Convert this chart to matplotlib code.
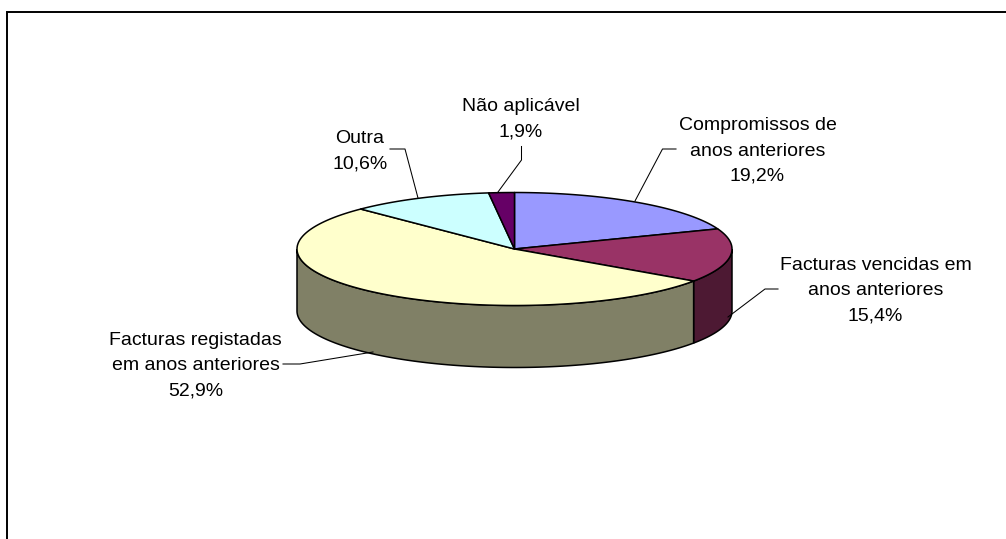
import numpy as np
import matplotlib
matplotlib.use('Agg')
import matplotlib.pyplot as plt

# slices, clockwise from 12 o'clock
names = ['Compromissos de\nanos anteriores',
         'Facturas vencidas em\nanos anteriores',
         'Facturas registadas\nem anos anteriores',
         'Outra',
         'Não aplicável']
values = [19.2, 15.4, 52.9, 10.6, 1.9]
top_colors = ['#9999FF', '#993366', '#FFFFCC', '#CCFFFF', '#660066']
side_colors = ['#4D4D80', '#4D1933', '#808066', '#668080', '#330033']

# label centres and leader lines, in image pixels
label_pos = [(757.5, 151), (875.5, 290.5), (195.5, 365.5), (360, 151.5), (521, 119.5)]
leaders = [
    [(676, 149), (662.5, 149), (635, 201)],
    [(778, 289), (765, 289), (728, 317)],
    [(283, 364), (300, 364), (373, 352)],
    [(390, 149), (405, 149), (418, 198)],
    [(521.5, 146.5), (521.5, 160), (498, 192)],
]

cx, cy = 514.5, 249.0
rx, ry = 217.5, 56.5
depth = 62.0

plt.rcParams['font.family'] = ['Liberation Sans', 'DejaVu Sans']

fig = plt.figure(figsize=(10.06, 5.39), dpi=100)
ax = fig.add_axes([0, 0, 1, 1])
ax.set_xlim(0, 1006)
ax.set_ylim(539, 0)
ax.axis('off')


def rim(a, b, dy=0.0):
    t = np.radians(np.linspace(a, b, 120))
    return cx + rx * np.sin(t), cy - ry * np.cos(t) + dy


edges = np.concatenate([[0], np.cumsum(values)]) / np.sum(values) * 360

# side wall: only the front half of the rim shows
for i in range(len(values)):
    a, b = max(edges[i], 90), min(edges[i + 1], 270)
    if a >= b:
        continue
    x, y = rim(a, b)
    x2, y2 = rim(a, b, depth)
    ax.fill(np.r_[x, x2[::-1]], np.r_[y, y2[::-1]], facecolor=side_colors[i],
            edgecolor='black', linewidth=1.1, zorder=2)

# top face
for i in range(len(values)):
    x, y = rim(edges[i], edges[i + 1])
    ax.fill(np.r_[cx, x], np.r_[cy, y], facecolor=top_colors[i],
            edgecolor='black', linewidth=1.1, joinstyle='round', zorder=3)

for pts in leaders:
    px, py = zip(*pts)
    ax.plot(px, py, color='black', linewidth=0.75, zorder=4)

for name, val, (lx, ly) in zip(names, values, label_pos):
    txt = name + '\n' + f'{val:.1f}'.replace('.', ',') + '%'
    ax.text(lx, ly, txt, ha='center', va='center', fontsize=14,
            linespacing=1.63, color='black')

# chart frame: only top and left edges are inside the picture
ax.plot([7.5, 7.5, 1006], [539, 12, 12], color='black', linewidth=1.4,
        solid_joinstyle='miter', zorder=1)

fig.savefig('out.png', dpi=100)
